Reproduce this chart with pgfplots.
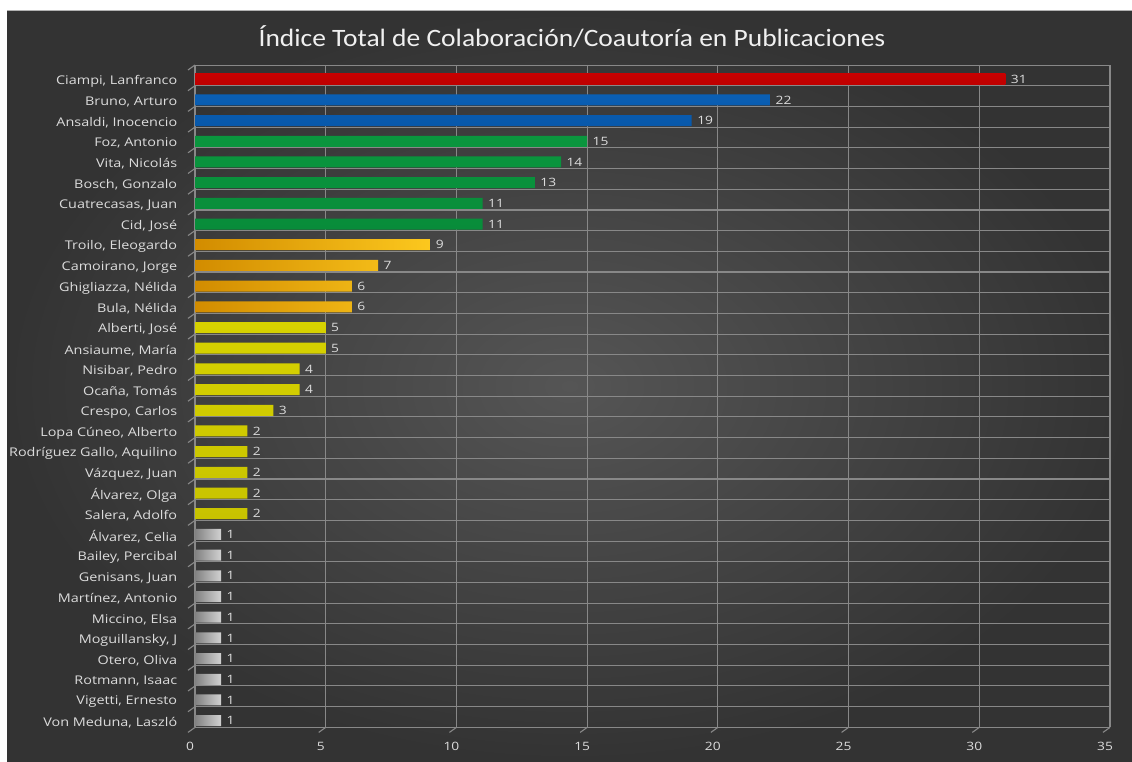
\documentclass[border=0pt]{standalone}
\usepackage{fontspec}
\usepackage{pgfplots}
\usepackage{pgfplotstable}
\pgfplotsset{compat=1.18}
\setmainfont{Carlito}
\newfontfamily\lblfont[FakeStretch=1.2]{Open Sans}
\newfontfamily\titlefont[FakeStretch=1.1]{Carlito}

\definecolor{bginner}{HTML}{555555}
\definecolor{bgouter}{HTML}{333333}
\definecolor{gridcol}{HTML}{888888}
\definecolor{labelcol}{HTML}{DCDCDC}
\definecolor{titlecol}{HTML}{F0F0F0}

% index (0 = top row) and number of co-authored publications
\pgfplotstableread{
idx val
0 31
}\redrows
\pgfplotstableread{
idx val
1 22
2 19
}\bluerows
\pgfplotstableread{
idx val
3 15
4 14
5 13
6 11
7 11
}\greenrows
\pgfplotstableread{
idx val
8 9
9 7
10 6
11 6
}\orangerows
\pgfplotstableread{
idx val
12 5
13 5
14 4
15 4
16 3
17 2
18 2
19 2
20 2
21 2
}\yellowrows
\pgfplotstableread{
idx val
22 1
23 1
24 1
25 1
26 1
27 1
28 1
29 1
30 1
31 1
}\grayrows

\begin{document}
\begin{tikzpicture}[x=1pt,y=1pt]
\fill[white] (0,0) rectangle (1132,761);
\useasboundingbox (0,0) rectangle (1132,761);
\shade[inner color=bginner, outer color=bgouter] (7,0) rectangle (1132,750);
\draw[gray!60, line width=1pt] (7,750) -- (1132,750);

\node[text=titlecol, font=\titlefont\fontsize{25}{29}\selectfont] at (572,724)
  {Índice Total de Colaboración/Coautoría en Publicaciones};

\begin{axis}[
  at={(195pt,696pt)}, anchor=north west,
  scale only axis, width=915pt, height=662.4pt,
  xmin=0, xmax=35, ymin=-0.685, ymax=31.325, y dir=reverse,
  xtick={0,5,...,35},
  ytick={0,...,31},
  yticklabels={{Ciampi, Lanfranco},{Bruno, Arturo},{Ansaldi, Inocencio},{Foz, Antonio},{Vita, Nicolás},{Bosch, Gonzalo},{Cuatrecasas, Juan},{Cid, José},{Troilo, Eleogardo},{Camoirano, Jorge},{Ghigliazza, Nélida},{Bula, Nélida},{Alberti, José},{Ansiaume, María},{Nisibar, Pedro},{Ocaña, Tomás},{Crespo, Carlos},{Lopa Cúneo, Alberto},{Rodríguez Gallo, Aquilino},{Vázquez, Juan},{Álvarez, Olga},{Salera, Adolfo},{Álvarez, Celia},{Bailey, Percibal},{Genisans, Juan},{Martínez, Antonio},{Miccino, Elsa},{Moguillansky, J},{Otero, Oliva},{Rotmann, Isaac},{Vigetti, Ernesto},{Von Meduna, Laszló}},
  extra y ticks={-0.68,0.32,1.32,2.32,3.32,4.32,5.32,6.32,7.32,8.32,9.32,10.32,11.32,12.32,13.32,14.32,15.32,16.32,17.32,18.32,19.32,20.32,21.32,22.32,23.32,24.32,25.32,26.32,27.32,28.32,29.32,30.32,31.32},
  extra y tick labels={},
  extra y tick style={grid=major},
  xmajorgrids,
  major grid style={draw=gridcol, line width=1.1pt},
  axis line style={draw=none},
  tick style={draw=none},
  /pgf/number format/assume math mode=true,
  yticklabel style={font=\lblfont\fontsize{12}{14}\selectfont, text=labelcol, xshift=-10pt, yshift=-2pt},
  xticklabel style={font=\lblfont\fontsize{11.5}{13}\selectfont, text=labelcol, xshift=-5pt, yshift=-11pt},
  xbar, bar width=11pt,
  point meta=x,
  nodes near coords,
  every node near coord/.append style={font=\lblfont\fontsize{11.5}{13}\selectfont, text=labelcol, xshift=2pt},
]
\addplot[xbar, bar shift=0pt, draw=none, top color={rgb,255:red,200;green,0;blue,0}, middle color={rgb,255:red,255;green,10;blue,10}, bottom color={rgb,255:red,190;green,0;blue,0}]
  table[x=val, y=idx] {\redrows};
\addplot[xbar, bar shift=0pt, draw=none, top color={rgb,255:red,10;green,95;blue,180}, middle color={rgb,255:red,25;green,125;blue,215}, bottom color={rgb,255:red,8;green,88;blue,170}]
  table[x=val, y=idx] {\bluerows};
\addplot[xbar, bar shift=0pt, draw=none, top color={rgb,255:red,10;green,150;blue,62}, middle color={rgb,255:red,22;green,185;blue,85}, bottom color={rgb,255:red,8;green,140;blue,58}]
  table[x=val, y=idx] {\greenrows};
\addplot[xbar, bar shift=0pt, draw=none, left color={rgb,255:red,210;green,140;blue,0}, right color={rgb,255:red,252;green,200;blue,30}]
  table[x=val, y=idx] {\orangerows};
\addplot[xbar, bar shift=0pt, draw=none, top color={rgb,255:red,215;green,210;blue,0}, middle color={rgb,255:red,250;green,248;blue,40}, bottom color={rgb,255:red,200;green,195;blue,0}]
  table[x=val, y=idx] {\yellowrows};
\addplot[xbar, bar shift=0pt, draw=none, left color={rgb,255:red,130;green,130;blue,130}, right color={rgb,255:red,210;green,210;blue,210}]
  table[x=val, y=idx] {\grayrows};
\end{axis}

% depth edges of the floor and left wall
\foreach \k in {0,...,32}
  \draw[gridcol, line width=1.1pt] (195,{696-\k*20.7}) -- ++(-7,-5);
\foreach \i in {1,...,7}
  \draw[gridcol, line width=1.1pt] ({195+\i*130.714},33.6) -- ++(-7,-5);
\end{tikzpicture}
\end{document}
